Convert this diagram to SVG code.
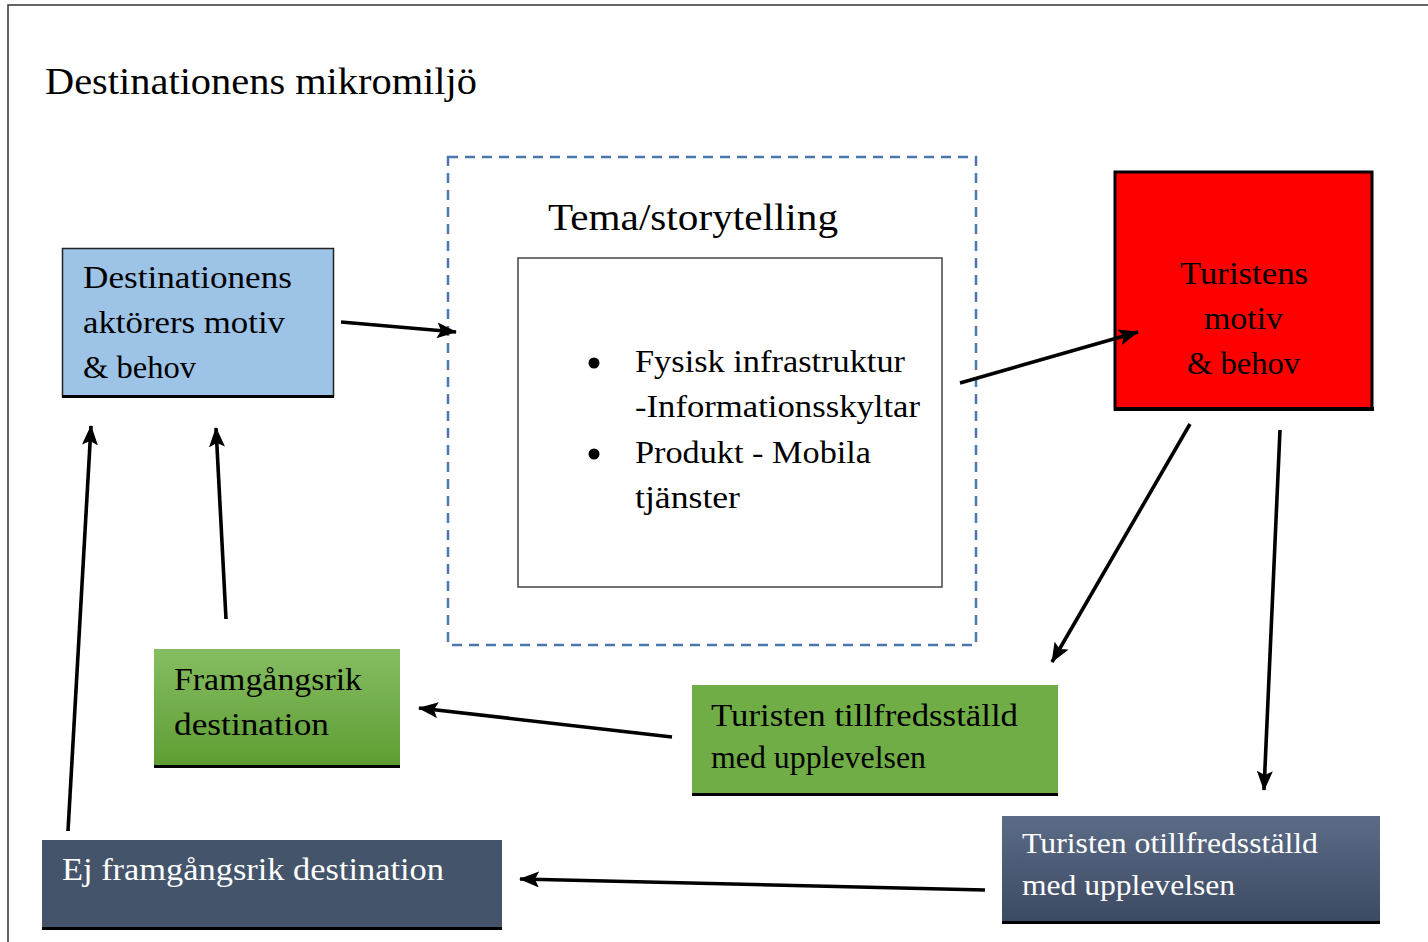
<svg xmlns="http://www.w3.org/2000/svg" width="1428" height="942" viewBox="0 0 1428 942">
<style>
text{font-family:"Liberation Serif","Times New Roman",serif;fill:#000}
.w{fill:#fff}
.con line{stroke:#000;stroke-width:3.6;marker-end:url(#ah)}
.bar{fill:#000}
</style>
<defs>
<marker id="ah" markerUnits="userSpaceOnUse" markerWidth="20" markerHeight="16" refX="19" refY="8" orient="auto">
<path d="M0,0 L20,8 L0,16 L4,8 z" fill="#000"/>
</marker>
<linearGradient id="gGreen" x1="0" y1="0" x2="0" y2="1">
<stop offset="0" stop-color="#86bd62"/>
<stop offset="1" stop-color="#5e9d33"/>
</linearGradient>
<linearGradient id="gSlate" x1="0" y1="0" x2="0" y2="1">
<stop offset="0" stop-color="#5c6c87"/>
<stop offset="1" stop-color="#3c4962"/>
</linearGradient>
</defs>
<rect width="1428" height="942" fill="#fff"/>
<path d="M8,942 V5 H1428" fill="none" stroke="#333" stroke-width="1.5"/>
<text x="45" y="94" font-size="38" textLength="432" lengthAdjust="spacingAndGlyphs">Destinationens mikromiljö</text>

<g id="tema">
<rect x="448" y="157" width="528" height="488" fill="none" stroke="#4a78ad" stroke-width="2.5" stroke-dasharray="10,7"/>
<text x="548" y="230" font-size="38" textLength="290" lengthAdjust="spacingAndGlyphs">Tema/storytelling</text>
<rect x="518" y="258" width="424" height="329" fill="#fff" stroke="#444" stroke-width="1.5"/>
<circle cx="594" cy="363" r="5.5"/>
<circle cx="594" cy="454" r="5.5"/>
<text x="635" y="372" font-size="32" textLength="270" lengthAdjust="spacingAndGlyphs">Fysisk infrastruktur</text>
<text x="635" y="417" font-size="32" textLength="285" lengthAdjust="spacingAndGlyphs">-Informationsskyltar</text>
<text x="635" y="463" font-size="32" textLength="236" lengthAdjust="spacingAndGlyphs">Produkt - Mobila</text>
<text x="635" y="508" font-size="32" textLength="105" lengthAdjust="spacingAndGlyphs">tjänster</text>
</g>

<g id="aktorer">
<rect x="62.5" y="248.5" width="271" height="148" fill="#9dc3e6" stroke="#222" stroke-width="1.5"/>
<rect class="bar" x="62" y="395" width="272" height="3"/>
<text x="83" y="288" font-size="32" textLength="209" lengthAdjust="spacingAndGlyphs">Destinationens</text>
<text x="83" y="333" font-size="32" textLength="202" lengthAdjust="spacingAndGlyphs">aktörers motiv</text>
<text x="83" y="378" font-size="32" textLength="113" lengthAdjust="spacingAndGlyphs">&amp; behov</text>
</g>

<g id="turistens">
<rect x="1115" y="172" width="257" height="237" fill="#ff0000" stroke="#000" stroke-width="3"/>
<rect class="bar" x="1114" y="407" width="260" height="4"/>
<text x="1180" y="284" font-size="32" textLength="128" lengthAdjust="spacingAndGlyphs">Turistens</text>
<text x="1204" y="329" font-size="32" textLength="79" lengthAdjust="spacingAndGlyphs">motiv</text>
<text x="1187" y="374" font-size="32" textLength="113" lengthAdjust="spacingAndGlyphs">&amp; behov</text>
</g>

<g id="framgangsrik">
<rect x="154" y="649" width="246" height="117" fill="url(#gGreen)"/>
<rect class="bar" x="154" y="765" width="246" height="3"/>
<text x="174" y="690" font-size="32" textLength="188" lengthAdjust="spacingAndGlyphs">Framgångsrik</text>
<text x="174" y="735" font-size="32" textLength="155" lengthAdjust="spacingAndGlyphs">destination</text>
</g>

<g id="tillfreds">
<rect x="692" y="685" width="366" height="109" fill="#70ad47"/>
<rect class="bar" x="692" y="793" width="366" height="3"/>
<text x="711" y="726" font-size="31" textLength="307" lengthAdjust="spacingAndGlyphs">Turisten tillfredsställd</text>
<text x="711" y="768" font-size="31" textLength="215" lengthAdjust="spacingAndGlyphs">med upplevelsen</text>
</g>

<g id="ejframgangsrik">
<rect x="42" y="840" width="460" height="88" fill="#44546a"/>
<rect class="bar" x="42" y="927" width="460" height="3"/>
<text class="w" x="62" y="880" font-size="31" textLength="382" lengthAdjust="spacingAndGlyphs">Ej framgångsrik destination</text>
</g>

<g id="otillfreds">
<rect x="1002" y="816" width="378" height="106" fill="url(#gSlate)"/>
<rect class="bar" x="1002" y="921" width="378" height="3"/>
<text class="w" x="1022" y="853" font-size="29" textLength="296" lengthAdjust="spacingAndGlyphs">Turisten otillfredsställd</text>
<text class="w" x="1022" y="895" font-size="29" textLength="213" lengthAdjust="spacingAndGlyphs">med upplevelsen</text>
</g>

<g id="connectors" class="con">
<line x1="341" y1="322" x2="456" y2="332"/>
<line x1="960" y1="383" x2="1138" y2="332"/>
<line x1="1190" y1="424" x2="1052" y2="662"/>
<line x1="1280" y1="430" x2="1264" y2="790"/>
<line x1="672" y1="737" x2="419" y2="708"/>
<line x1="985" y1="890" x2="520" y2="879"/>
<line x1="226" y1="619" x2="216" y2="428"/>
<line x1="68" y1="831" x2="91" y2="426"/>
</g>
</svg>
